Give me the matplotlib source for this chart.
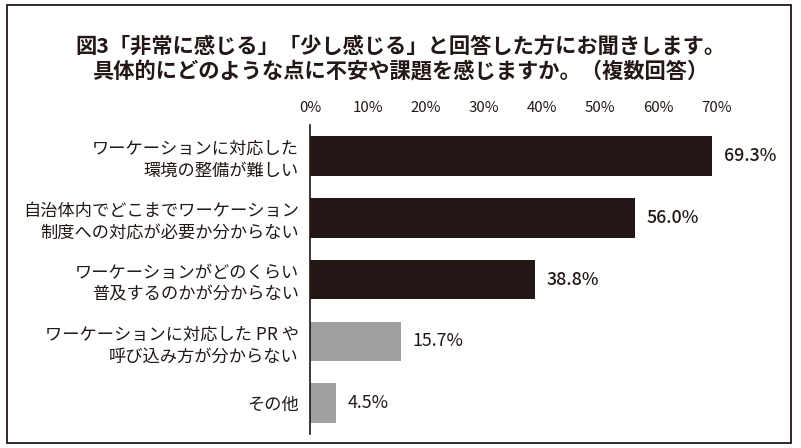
import matplotlib
matplotlib.use("Agg")
import matplotlib.pyplot as plt
from matplotlib.patches import Rectangle

plt.rcParams['font.family'] = ['Noto Sans CJK JP', 'DejaVu Sans']

# data
categories = [
    "ワーケーションに対応した\n環境の整備が難しい",
    "自治体内でどこまでワーケーション\n制度への対応が必要か分からない",
    "ワーケーションがどのくらい\n普及するのかが分からない",
    "ワーケーションに対応した PR や\n呼び込み方が分からない",
    "その他",
]
values = [69.3, 56.0, 38.8, 15.7, 4.5]
bar_colors = ["#231815", "#231815", "#231815", "#a0a0a0", "#a0a0a0"]
value_weights = ["medium", "medium", "medium", "normal", "normal"]
ticks = [0, 10, 20, 30, 40, 50, 60, 70]
title = ("図3「非常に感じる」「少し感じる」と回答した方にお聞きします。\n"
         "具体的にどのような点に不安や課題を感じますか。（複数回答）")

text_color = "#231815"

fig = plt.figure(figsize=(8.01, 4.48), dpi=100)
ax = fig.add_axes([0.387, 0.031, 0.507, 0.69])

y = list(range(len(values)))
ax.barh(y, values, height=0.64, color=bar_colors)
ax.set_ylim(len(values) - 0.5, -0.5)
ax.set_xlim(0, 70)

for yi, v, w in zip(y, values, value_weights):
    ax.text(v + 2.0, yi, f"{v:.1f}%", va="center", ha="left",
            fontsize=12.8, color=text_color, fontweight=w)

ax.set_yticks(y)
ax.set_yticklabels(categories, fontsize=12.4, color=text_color, linespacing=1.3)
ax.set_xticks(ticks)
ax.set_xticklabels([f"{t}%" for t in ticks], fontsize=10.8, color=text_color)
ax.xaxis.tick_top()
ax.tick_params(axis="x", length=0, pad=7)
ax.tick_params(axis="y", length=0, pad=8)

for s in ["top", "right", "bottom"]:
    ax.spines[s].set_visible(False)
ax.spines["left"].set_color(text_color)
ax.spines["left"].set_linewidth(1.2)

fig.text(0.5, 0.868, title, ha="center", va="center", fontsize=15.3,
         fontweight="bold", color=text_color, linespacing=1.3)

# frame around the figure
fig.patches.append(Rectangle((7 / 801, 5 / 448), 784 / 801, 438 / 448,
                             transform=fig.transFigure, fill=False,
                             edgecolor=text_color, linewidth=1.3))

fig.savefig("out.png", dpi=100)
